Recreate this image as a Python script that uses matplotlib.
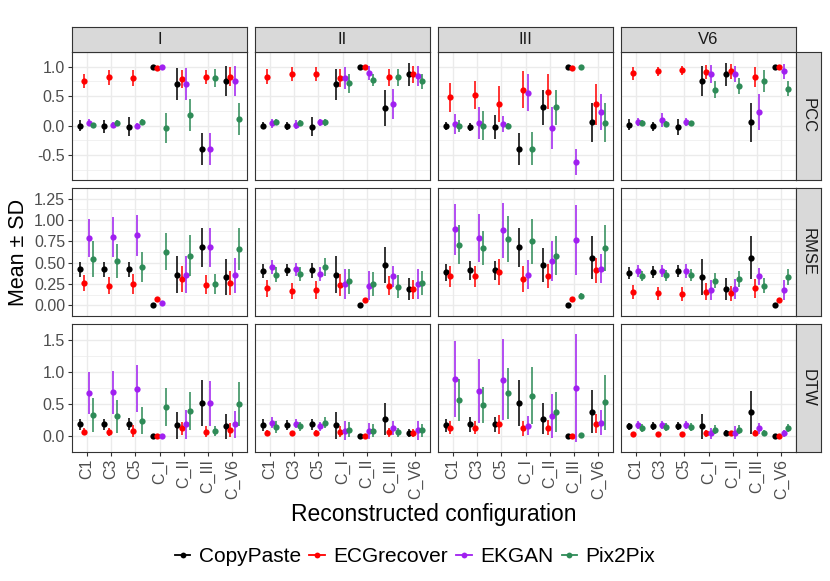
import matplotlib
matplotlib.use("Agg")
import matplotlib.pyplot as plt
from matplotlib.lines import Line2D
import numpy as np

plt.rcParams['font.family'] = ['Liberation Sans', 'DejaVu Sans']

configs = ["C1", "C3", "C5", "C_I", "C_II", "C_III", "C_V6"]
leads = ["I", "II", "III", "V6"]
metrics = ["PCC", "RMSE", "DTW"]
methods = ["CopyPaste", "ECGrecover", "EKGAN", "Pix2Pix"]
colors = ["black", "#FF0000", "#A020F0", "#2E8B57"]

# rows = methods (CopyPaste, ECGrecover, EKGAN, Pix2Pix), cols = configs
pcc_I_mean = [[0.00, -0.01, -0.02, 1.00, 0.71, -0.39, 0.76],
              [0.76, 0.82, 0.81, 0.98, 0.79, 0.82, 0.83],
              [0.05, 0.01, 0.00, 1.00, 0.71, -0.39, 0.76],
              [0.01, 0.04, 0.06, -0.04, 0.18, 0.81, 0.12]]
pcc_I_sd = [[0.09, 0.11, 0.16, 0.00, 0.27, 0.27, 0.25],
            [0.12, 0.13, 0.13, 0.01, 0.15, 0.12, 0.16],
            [0.06, 0.05, 0.05, 0.00, 0.27, 0.27, 0.25],
            [0.04, 0.05, 0.05, 0.26, 0.27, 0.15, 0.27]]
pcc_II_mean = [[0.00, -0.01, -0.02, 0.70, 1.00, 0.30, 0.87],
               [0.83, 0.88, 0.88, 0.81, 0.99, 0.82, 0.87],
               [0.04, 0.02, 0.06, 0.81, 0.89, 0.37, 0.85],
               [0.06, 0.04, 0.06, 0.72, 0.78, 0.82, 0.75]]
pcc_II_sd = [[0.06, 0.07, 0.16, 0.27, 0.00, 0.30, 0.19],
             [0.13, 0.12, 0.12, 0.16, 0.01, 0.14, 0.15],
             [0.07, 0.07, 0.06, 0.18, 0.12, 0.25, 0.17],
             [0.05, 0.05, 0.06, 0.16, 0.10, 0.15, 0.13]]
pcc_III_mean = [[0.00, -0.02, -0.02, -0.39, 0.31, 1.00, 0.06],
                [0.48, 0.52, 0.37, 0.61, 0.58, 0.98, 0.36],
                [0.03, 0.04, 0.03, 0.56, -0.04, -0.62, 0.23],
                [0.00, 0.00, 0.00, -0.39, 0.31, 1.00, 0.05]]
pcc_III_sd = [[0.07, 0.07, 0.20, 0.27, 0.30, 0.00, 0.33],
              [0.24, 0.23, 0.30, 0.31, 0.30, 0.01, 0.34],
              [0.17, 0.27, 0.13, 0.31, 0.36, 0.22, 0.30],
              [0.10, 0.25, 0.05, 0.28, 0.30, 0.00, 0.33]]
pcc_V6_mean = [[0.02, -0.01, -0.02, 0.76, 0.87, 0.06, 1.00],
               [0.89, 0.92, 0.94, 0.91, 0.92, 0.82, 0.99],
               [0.06, 0.10, 0.06, 0.88, 0.88, 0.23, 0.92],
               [0.05, 0.03, 0.04, 0.61, 0.67, 0.76, 0.63]]
pcc_V6_sd = [[0.10, 0.08, 0.13, 0.25, 0.19, 0.33, 0.00],
             [0.11, 0.08, 0.08, 0.12, 0.12, 0.17, 0.01],
             [0.07, 0.12, 0.07, 0.15, 0.14, 0.30, 0.12],
             [0.05, 0.05, 0.04, 0.14, 0.14, 0.18, 0.13]]

rmse_I_mean = [[0.42, 0.42, 0.42, 0.00, 0.36, 0.68, 0.33],
               [0.26, 0.23, 0.25, 0.07, 0.31, 0.24, 0.26],
               [0.79, 0.80, 0.82, 0.03, 0.36, 0.68, 0.35],
               [0.54, 0.52, 0.45, 0.63, 0.58, 0.25, 0.66]]
rmse_I_sd = [[0.09, 0.09, 0.09, 0.00, 0.22, 0.23, 0.21],
             [0.09, 0.10, 0.12, 0.00, 0.15, 0.11, 0.14],
             [0.22, 0.23, 0.24, 0.00, 0.22, 0.23, 0.21],
             [0.21, 0.20, 0.18, 0.22, 0.24, 0.12, 0.25]]
rmse_II_mean = [[0.40, 0.41, 0.41, 0.36, 0.00, 0.47, 0.19],
                [0.20, 0.17, 0.18, 0.24, 0.06, 0.23, 0.19],
                [0.45, 0.42, 0.37, 0.25, 0.23, 0.34, 0.25],
                [0.36, 0.37, 0.45, 0.28, 0.25, 0.22, 0.26]]
rmse_II_sd = [[0.08, 0.07, 0.09, 0.22, 0.00, 0.21, 0.13],
              [0.10, 0.09, 0.11, 0.13, 0.00, 0.11, 0.11],
              [0.08, 0.08, 0.08, 0.17, 0.17, 0.12, 0.18],
              [0.09, 0.08, 0.11, 0.15, 0.14, 0.13, 0.14]]
rmse_III_mean = [[0.39, 0.41, 0.41, 0.68, 0.47, 0.00, 0.56],
                 [0.34, 0.34, 0.39, 0.31, 0.34, 0.07, 0.41],
                 [0.89, 0.79, 0.88, 0.36, 0.52, 0.76, 0.43],
                 [0.71, 0.67, 0.78, 0.75, 0.58, 0.11, 0.67]]
rmse_III_sd = [[0.10, 0.11, 0.11, 0.23, 0.20, 0.00, 0.25],
               [0.12, 0.12, 0.15, 0.15, 0.14, 0.00, 0.15],
               [0.30, 0.28, 0.32, 0.17, 0.23, 0.41, 0.17],
               [0.23, 0.20, 0.27, 0.26, 0.23, 0.04, 0.27]]
rmse_V6_mean = [[0.38, 0.39, 0.40, 0.33, 0.19, 0.56, 0.00],
                [0.16, 0.14, 0.13, 0.16, 0.14, 0.20, 0.06],
                [0.40, 0.40, 0.40, 0.18, 0.19, 0.34, 0.18],
                [0.34, 0.35, 0.36, 0.29, 0.31, 0.23, 0.33]]
rmse_V6_sd = [[0.07, 0.07, 0.07, 0.21, 0.13, 0.25, 0.00],
              [0.08, 0.08, 0.08, 0.10, 0.09, 0.11, 0.00],
              [0.07, 0.07, 0.08, 0.12, 0.12, 0.10, 0.12],
              [0.06, 0.06, 0.07, 0.09, 0.09, 0.09, 0.09]]

dtw_I_mean = [[0.18, 0.18, 0.19, 0.00, 0.17, 0.51, 0.15],
              [0.07, 0.06, 0.08, 0.00, 0.12, 0.07, 0.09],
              [0.67, 0.68, 0.74, 0.00, 0.18, 0.51, 0.18],
              [0.33, 0.31, 0.24, 0.45, 0.39, 0.08, 0.50]]
dtw_I_sd = [[0.09, 0.09, 0.09, 0.00, 0.21, 0.36, 0.19],
            [0.06, 0.06, 0.09, 0.00, 0.10, 0.08, 0.11],
            [0.33, 0.34, 0.37, 0.00, 0.23, 0.35, 0.21],
            [0.27, 0.26, 0.21, 0.30, 0.29, 0.08, 0.34]]
dtw_II_mean = [[0.17, 0.17, 0.18, 0.17, 0.00, 0.27, 0.05],
               [0.05, 0.04, 0.05, 0.07, 0.00, 0.06, 0.05],
               [0.21, 0.19, 0.15, 0.08, 0.08, 0.12, 0.09],
               [0.14, 0.15, 0.21, 0.10, 0.08, 0.06, 0.09]]
dtw_II_sd = [[0.09, 0.08, 0.08, 0.21, 0.00, 0.25, 0.06],
             [0.05, 0.04, 0.05, 0.09, 0.00, 0.07, 0.06],
             [0.08, 0.07, 0.07, 0.15, 0.12, 0.11, 0.15],
             [0.09, 0.07, 0.09, 0.12, 0.10, 0.07, 0.10]]
dtw_III_mean = [[0.17, 0.18, 0.18, 0.51, 0.27, 0.00, 0.38],
                [0.13, 0.13, 0.18, 0.12, 0.13, 0.00, 0.19],
                [0.89, 0.71, 0.88, 0.16, 0.31, 0.75, 0.21],
                [0.56, 0.49, 0.67, 0.63, 0.38, 0.01, 0.53]]
dtw_III_sd = [[0.10, 0.12, 0.12, 0.36, 0.24, 0.00, 0.34],
              [0.10, 0.10, 0.15, 0.12, 0.12, 0.00, 0.15],
              [0.60, 0.50, 0.63, 0.15, 0.34, 0.84, 0.19],
              [0.33, 0.28, 0.40, 0.45, 0.31, 0.01, 0.43]]
dtw_V6_mean = [[0.15, 0.16, 0.16, 0.15, 0.05, 0.37, 0.00],
               [0.03, 0.03, 0.03, 0.04, 0.04, 0.05, 0.00],
               [0.17, 0.17, 0.17, 0.04, 0.05, 0.12, 0.04],
               [0.12, 0.14, 0.14, 0.10, 0.10, 0.05, 0.12]]
dtw_V6_sd = [[0.06, 0.06, 0.06, 0.19, 0.05, 0.34, 0.00],
             [0.03, 0.03, 0.03, 0.05, 0.04, 0.05, 0.00],
             [0.06, 0.06, 0.06, 0.09, 0.10, 0.09, 0.05],
             [0.06, 0.06, 0.06, 0.07, 0.07, 0.05, 0.06]]

means = {"PCC": [pcc_I_mean, pcc_II_mean, pcc_III_mean, pcc_V6_mean],
         "RMSE": [rmse_I_mean, rmse_II_mean, rmse_III_mean, rmse_V6_mean],
         "DTW": [dtw_I_mean, dtw_II_mean, dtw_III_mean, dtw_V6_mean]}
sds = {"PCC": [pcc_I_sd, pcc_II_sd, pcc_III_sd, pcc_V6_sd],
       "RMSE": [rmse_I_sd, rmse_II_sd, rmse_III_sd, rmse_V6_sd],
       "DTW": [dtw_I_sd, dtw_II_sd, dtw_III_sd, dtw_V6_sd]}

# y axis setup per row
ylims = {"PCC": (-0.92, 1.16), "RMSE": (-0.056, 1.25), "DTW": (-0.16, 1.66)}
yticks = {"PCC": [-0.5, 0.0, 0.5, 1.0],
          "RMSE": [0.0, 0.25, 0.5, 0.75, 1.0, 1.25],
          "DTW": [0.0, 0.5, 1.0, 1.5]}
yfmt = {"PCC": "%.1f", "RMSE": "%.2f", "DTW": "%.1f"}

W, H = 830, 581
fig = plt.figure(figsize=(W / 100, H / 100), dpi=100)

def rect(x0, y0, w, h):
    return [x0 / W, 1 - (y0 + h) / H, w / W, h / H]

lefts = [72, 255, 438, 621]
tops = [52, 188, 324]
pw, ph = 175, 128
border = "#333333"
grid = "#EBEBEB"
offs = np.array([-0.27, -0.09, 0.09, 0.27])
x = np.arange(len(configs))

for r, metric in enumerate(metrics):
    for c, lead in enumerate(leads):
        ax = fig.add_axes(rect(lefts[c], tops[r], pw, ph))
        ax.set_xlim(-0.6, len(configs) - 0.4)
        ax.set_ylim(*ylims[metric])
        yt = yticks[metric]
        step = yt[1] - yt[0]
        minor = [v + step / 2 for v in [yt[0] - step] + yt]
        ax.set_yticks(yt)
        ax.set_yticks(minor, minor=True)
        ax.set_xticks(x)
        ax.grid(True, which="major", color=grid, lw=1.0, zorder=0)
        ax.grid(True, which="minor", axis="y", color=grid, lw=0.5, zorder=0)
        ax.set_axisbelow(True)
        for s in ax.spines.values():
            s.set_color(border)
            s.set_linewidth(0.8)
        ax.tick_params(which="minor", length=0)
        ax.tick_params(which="major", length=3, color=border, width=0.8,
                       labelsize=11.5, labelcolor="#4D4D4D", pad=2)
        if c == 0:
            ax.set_yticklabels([yfmt[metric] % v for v in yt])
        else:
            ax.tick_params(axis="y", length=0, labelleft=False)
        if r == len(metrics) - 1:
            ax.set_xticklabels(configs, rotation=90)
        else:
            ax.tick_params(axis="x", length=0, labelbottom=False)

        m = means[metric][c]
        s = sds[metric][c]
        for k in range(len(methods)):
            mk = np.array(m[k])
            sk = np.array(s[k])
            xx = x + offs[k]
            ax.vlines(xx, mk - sk, mk + sk, color=colors[k], lw=1.4,
                      alpha=0.8, zorder=3 + 2 * k)
            ax.plot(xx, mk, "o", color=colors[k], ms=4.5, mew=0,
                    zorder=4 + 2 * k)

        # top strip
        if r == 0:
            sa = fig.add_axes(rect(lefts[c], 27, pw, 25))
            sa.set_facecolor("#D9D9D9")
            sa.set_xticks([])
            sa.set_yticks([])
            for sp in sa.spines.values():
                sp.set_color(border)
                sp.set_linewidth(0.8)
            sa.text(0.5, 0.5, lead, ha="center", va="center", fontsize=12,
                    color="#1A1A1A", transform=sa.transAxes)
    # right strip
    sa = fig.add_axes(rect(lefts[-1] + pw, tops[r], 25, ph))
    sa.set_facecolor("#D9D9D9")
    sa.set_xticks([])
    sa.set_yticks([])
    for sp in sa.spines.values():
        sp.set_color(border)
        sp.set_linewidth(0.8)
    sa.text(0.5, 0.5, metric, ha="center", va="center", fontsize=12,
            color="#1A1A1A", rotation=-90, transform=sa.transAxes)

fig.text(434 / W, 1 - 515 / H, "Reconstructed configuration", ha="center",
         va="center", fontsize=16.5)
fig.text(18 / W, 1 - 252 / H, "Mean ± SD", ha="center", va="center",
         rotation=90, fontsize=15.5)

handles = [Line2D([0], [0], color=colors[k], lw=1.3, marker="o", ms=4.2, mew=0)
           for k in range(len(methods))]
fig.legend(handles, methods, loc="center", bbox_to_anchor=(0.5, 1 - 557 / H),
           ncol=4, frameon=False, fontsize=15, handlelength=0.75,
           handletextpad=0.4, columnspacing=0.4, borderpad=0)

fig.savefig("out.png", dpi=100)
